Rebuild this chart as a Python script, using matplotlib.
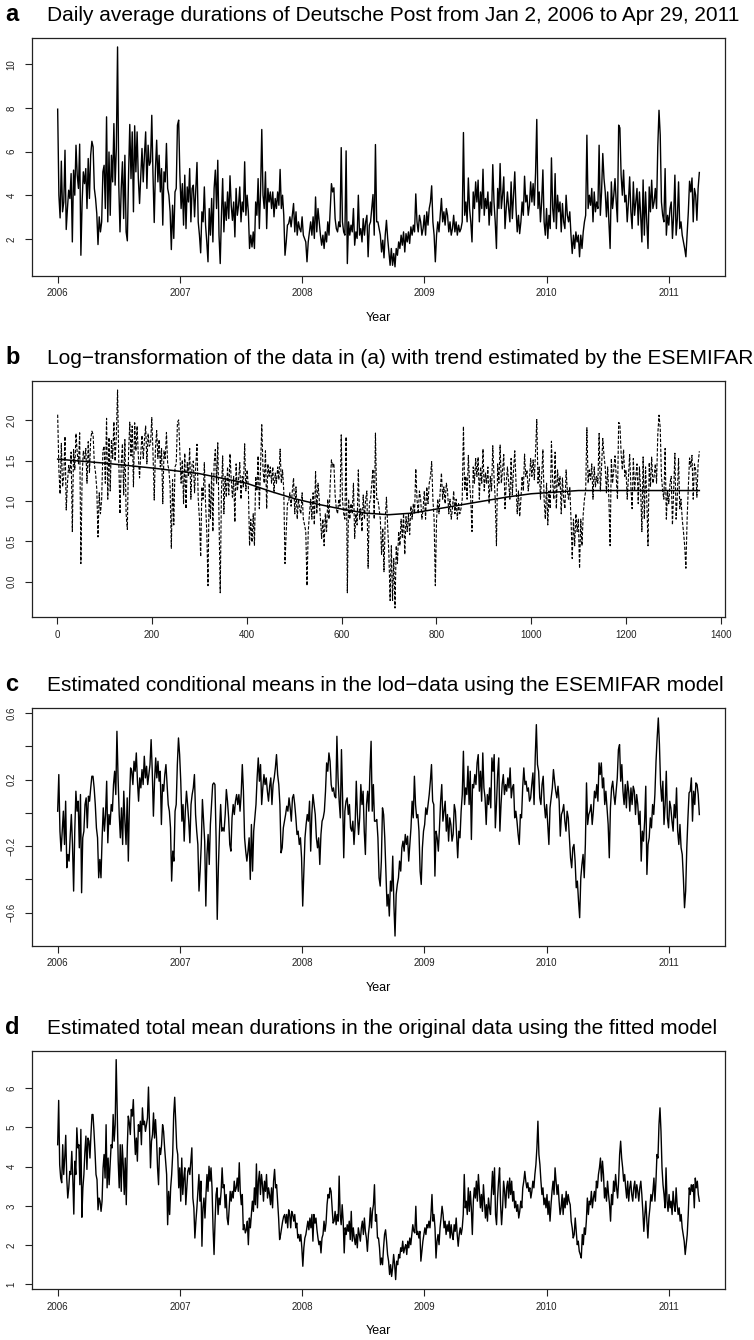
import numpy as np
import matplotlib.pyplot as plt

plt.rcParams['font.family'] = ['Liberation Sans', 'DejaVu Sans']

# (a) daily average durations, Jan 2006 .. Apr 2011
dur_a = [
    7.94, 4.00, 2.96, 5.56, 3.24, 3.69, 6.06, 2.43, 3.39, 4.23,
    3.85, 4.99, 1.86, 5.15, 4.00, 6.29, 4.92, 4.31, 6.34, 1.25,
    3.69, 5.07, 4.53, 5.22, 3.39, 5.68, 3.85, 5.83, 6.47, 6.21,
    4.31, 3.85, 3.16, 1.74, 3.01, 2.32, 2.78, 5.07, 5.37, 3.39,
    7.59, 2.78, 5.98, 3.08, 5.83, 4.61, 7.28, 4.46, 6.14, 10.79,
    4.46, 2.32, 4.31, 5.53, 2.93, 5.83, 2.32, 1.91, 4.92, 7.24,
    4.76, 6.90, 3.24, 7.18, 5.07, 6.90, 4.76, 3.62, 4.92, 6.14,
    4.61, 5.83, 6.90, 4.31, 6.29, 5.37, 5.53, 7.66, 4.92, 2.75,
    5.22, 6.52, 4.61, 5.83, 4.15, 5.22, 2.63, 5.07, 4.61, 6.37,
    4.31, 4.00, 3.24, 1.51, 3.54, 2.02, 4.15, 4.31, 7.21, 7.44,
    4.92, 3.39, 4.53, 2.63, 4.92, 2.47, 4.38, 3.69, 5.22, 2.78,
    4.31, 4.46, 3.01, 4.23, 5.50, 2.78, 2.17, 1.36, 3.24, 2.78,
    4.38, 2.63, 1.86, 0.95, 3.39, 2.17, 3.85, 1.86, 4.31, 5.15,
    3.39, 5.60, 2.17, 0.87, 3.08, 4.76, 2.32, 3.69, 2.85, 4.15,
    2.93, 4.89, 3.54, 2.85, 3.69, 2.09, 4.31, 3.08, 3.54, 4.38,
    2.78, 3.69, 3.24, 5.53, 3.08, 4.00, 3.24, 1.56, 2.17, 1.63,
    2.32, 1.56, 3.69, 3.08, 4.76, 2.47, 4.15, 7.01, 4.00, 3.39,
    5.07, 2.47, 4.31, 3.69, 4.15, 3.39, 4.15, 3.01, 3.85, 3.39,
    4.15, 3.54, 5.18, 3.39, 4.00, 3.08, 1.25, 1.86, 2.63, 2.70,
    3.01, 2.55, 3.08, 3.62, 2.32, 3.24, 2.17, 2.78, 2.47, 2.32,
    3.01, 2.17, 2.02, 1.86, 0.95, 1.86, 2.32, 2.78, 2.17, 3.01,
    2.02, 3.92, 2.32, 3.39, 2.78, 2.17, 1.71, 2.17, 1.56, 2.32,
    1.86, 2.78, 2.17, 3.39, 4.53, 4.15, 4.34, 2.93, 2.47, 2.32,
    2.78, 2.55, 6.18, 2.78, 2.32, 2.17, 6.03, 0.87, 2.78, 2.17,
    2.63, 2.32, 3.39, 1.71, 2.32, 2.02, 4.00, 2.17, 2.47, 1.86,
    2.93, 2.17, 2.78, 3.08, 1.18, 2.63, 2.78, 3.39, 4.03, 2.17,
    6.32, 2.78, 2.78,
    2.47, 2.17, 1.40, 1.94, 1.13, 2.17, 2.85, 2.02, 1.40, 0.79,
    1.56, 0.79, 1.33, 0.72, 1.56, 1.25, 1.86, 1.56, 2.17, 1.71,
    2.32, 1.40, 2.24, 1.86, 2.32, 1.79, 2.55, 2.17, 2.63, 2.32,
    4.06,
    2.78, 2.32, 3.08, 2.78, 2.17, 2.47, 3.08, 2.17, 3.24, 2.63,
    3.39, 3.69, 4.43, 2.78, 2.17, 0.95, 2.17, 2.78, 2.32, 3.08,
    3.85, 2.78, 3.24, 2.63, 3.39, 3.08, 2.32, 2.78, 2.17, 2.47,
    3.08, 2.32, 2.78, 2.17, 2.63, 2.32, 2.47, 2.78, 6.87,
    3.08, 3.69, 2.78, 4.79, 3.39, 2.78, 1.86, 4.15, 3.39, 4.61,
    3.69, 4.69, 2.78, 4.15, 3.39, 5.19, 3.08, 3.85, 3.39, 4.15,
    2.63, 3.69, 3.08, 5.40, 3.69, 2.78, 1.56, 4.31, 3.39, 5.45,
    3.39, 4.00, 4.84, 2.47, 3.39, 4.15, 3.39, 2.78, 4.61, 2.93,
    4.00, 5.07, 3.39, 2.32, 3.08, 2.24, 2.78, 3.69, 3.08, 4.87,
    3.69, 4.00, 3.08, 3.54, 4.61, 3.69, 4.53, 3.54, 5.02, 7.47,
    3.39, 4.15, 2.78, 3.69, 5.16, 2.78, 2.17, 3.39, 2.02, 3.08,
    2.47, 5.71, 3.39, 2.78, 4.99, 2.47, 4.00, 3.24, 3.69, 2.32,
    3.62, 2.78, 2.47, 4.00, 3.08, 2.78, 3.24, 2.17, 1.33, 2.17,
    1.56, 2.32, 1.86, 2.17, 1.18, 2.17, 1.56, 2.32, 2.78, 3.08,
    6.75, 3.39, 4.00, 3.54, 4.31, 2.78, 4.15, 3.24, 3.69, 3.39,
    6.29, 3.08, 4.15, 5.91, 4.76, 4.15, 3.01, 4.15,
    2.78, 1.56, 4.61, 3.39, 4.00, 4.76, 3.69, 2.78, 7.21, 7.08,
    4.92, 4.00, 5.15, 3.69, 4.00, 2.78, 3.69, 4.84, 3.24, 2.47,
    4.61, 3.08, 3.69, 4.31, 2.63, 4.15, 3.08, 1.86, 4.70, 2.17,
    4.15, 2.78, 1.56, 4.38, 3.24, 4.69, 3.39, 3.69, 4.31, 3.39,
    6.21, 7.89, 6.75, 3.69, 3.08, 2.78, 5.22, 2.17, 3.08, 2.63,
    3.39, 3.69, 2.02, 3.08, 4.92, 2.17, 2.93, 4.61, 2.47, 2.78,
    2.17, 1.86, 1.56, 1.18, 2.17, 3.24, 4.64, 4.15, 4.79, 2.78,
    4.31, 4.00, 2.85, 4.31, 5.04,
]

# (b) ESEMIFAR trend of the log data (observation index, value)
trend_t = [1, 100, 200, 300, 400, 450, 500, 550, 600, 650, 700, 750,
           800, 850, 900, 950, 1000, 1050, 1100, 1200, 1355]
trend_b = [1.52, 1.47, 1.41, 1.34, 1.22, 1.12, 1.03, 0.96, 0.90, 0.85, 0.83, 0.85,
           0.90, 0.95, 1.00, 1.05, 1.09, 1.11, 1.13, 1.13, 1.13]
n_obs = 1355

# (c) estimated conditional means of the lod-data
cond_c = [
    0.01, 0.23, -0.11, -0.23, -0.11, 0.01, -0.19, 0.07, -0.33, -0.25,
    -0.29, -0.14, -0.01, -0.19, -0.47, -0.11, 0.13, 0.01, 0.07, -0.21,
    0.11, -0.48, -0.15, -0.11, 0.05, 0.09, -0.09, 0.10, 0.07, 0.15,
    0.22, 0.22, 0.15, 0.05, -0.09, -0.15, -0.39, -0.28, -0.39, -0.15,
    0.03, -0.11, -0.01, 0.19, -0.18, -0.01, -0.07, 0.05, 0.01, 0.17,
    0.25, 0.11, 0.49, 0.21, -0.01, -0.15, 0.03, -0.19, 0.13, -0.05,
    -0.19, 0.09, -0.29, 0.07, 0.27, 0.25, 0.17, 0.31, 0.25, 0.36,
    0.19, 0.07, 0.21, 0.15, 0.26, 0.17, 0.34, 0.21, 0.28, 0.17,
    0.23, 0.29, 0.44, 0.25, -0.02, 0.19, 0.33, 0.21, 0.31, 0.19,
    0.25, -0.07, 0.17, 0.13, 0.23, 0.29, 0.17, 0.05, 0.01, -0.09,
    -0.41, -0.23, -0.29, 0.01, 0.05, 0.29, 0.45, 0.35, 0.19, -0.05,
    0.05, -0.17, 0.01, 0.13, 0.05, -0.05, -0.18, 0.05, 0.11, 0.15,
    0.23, -0.01, -0.11, -0.19, -0.47, -0.35, -0.19, 0.08, -0.05, -0.17,
    -0.56, -0.25, -0.13, -0.31, -0.07, 0.05, 0.17, 0.18, 0.17, -0.15,
    -0.64, -0.33, -0.11, 0.05, -0.11, -0.09, -0.11, -0.01, 0.14, 0.07,
    -0.03, -0.19, -0.23, -0.03, 0.05, -0.01, 0.07, 0.11, 0.05, 0.11,
    0.01, 0.11, 0.29, 0.13, -0.15, -0.23, -0.29, -0.23, -0.15, -0.40,
    -0.07, -0.35, -0.11, -0.03, 0.05, 0.21, 0.33, 0.19, 0.29, 0.05,
    0.15, 0.23, 0.17, 0.21, 0.13, 0.07, 0.16, 0.21, 0.05, 0.17,
    0.21, 0.27, 0.35, 0.23, 0.17, 0.05, -0.24, -0.21, -0.09, -0.05,
    -0.01, 0.04, 0.01, 0.09, 0.03, -0.05, 0.09, 0.11, 0.05, -0.03,
    -0.13, -0.11, -0.19, -0.15, -0.27, -0.56, -0.35, -0.15, -0.07, -0.01,
    -0.05, 0.07, -0.23, -0.01, 0.11, 0.05, -0.01, -0.15, -0.21, -0.15,
    -0.31, -0.13, -0.05, -0.03, 0.01, 0.13, 0.30, 0.25, 0.36, 0.31,
    0.17, 0.13, 0.15, 0.10, 0.09, 0.46, 0.21, 0.07, -0.03, 0.38,
    0.09, -0.27, 0.01, 0.07, 0.09, -0.01, 0.05, -0.09, -0.11, -0.05,
    -0.19, -0.07, 0.19, -0.01, -0.13, -0.03, 0.17, 0.05, 0.13, -0.11,
    -0.25, 0.05, 0.13, 0.01, 0.25, 0.43, 0.01, 0.17, -0.05,
    -0.05, -0.04, -0.15, -0.39, -0.44, -0.29, 0.03, -0.01, -0.15, -0.35,
    -0.56, -0.49, -0.62, -0.41, -0.47, -0.26, -0.55, -0.74, -0.49, -0.43,
    -0.39, -0.29, -0.35, -0.21, -0.17, -0.23, -0.13, -0.19, -0.14, -0.29,
    -0.19, -0.09, 0.07, -0.03, 0.22, 0.05, -0.03, -0.01, -0.11, -0.35,
    -0.43, -0.21, -0.11, -0.07, 0.03, -0.01, 0.05, 0.11, 0.19, 0.29,
    0.07, 0.05, -0.38, -0.11, -0.15, -0.23, -0.09, 0.07, 0.17, -0.05,
    0.01, 0.07, -0.11, -0.01, -0.17, -0.03, -0.07, -0.17, -0.13, 0.05,
    0.01, -0.13, -0.27, -0.11, -0.15, 0.01, 0.11, 0.37, 0.05, 0.15,
    0.11, 0.28, 0.05, 0.25, -0.16, 0.17, 0.15, 0.23, 0.17, 0.30,
    0.35, 0.13, 0.25, 0.07, 0.36, 0.15, 0.09, -0.07, 0.11, 0.05,
    0.15, 0.03, 0.33, 0.25, 0.35, -0.09, 0.05, 0.23, 0.33, -0.11,
    0.05, 0.17, 0.23, 0.11, 0.17, 0.13, 0.21, 0.15, 0.27, 0.09,
    0.15, 0.17, -0.03, 0.01, -0.05, -0.13, -0.19, -0.01, -0.03, 0.15,
    0.27, 0.17, 0.19, 0.13, 0.15, 0.07, 0.09, 0.17, 0.24, 0.05,
    0.33, 0.53, 0.29, 0.25, 0.09, 0.05, 0.17, 0.22, 0.05, -0.03,
    0.05, -0.07, -0.19, 0.03, 0.09, 0.15, 0.26, 0.19, 0.13, 0.09,
    0.16, 0.07, -0.14, -0.01, 0.01, 0.05, -0.05, -0.11, 0.01, -0.03,
    -0.15, -0.27, -0.33, -0.21, -0.19, -0.29, -0.45, -0.41, -0.53, -0.63,
    -0.39, -0.31, -0.25, -0.39, -0.19, 0.18, -0.07, -0.01, 0.01, 0.05,
    -0.07, 0.01, 0.13, 0.09, 0.17, 0.07, 0.30, 0.23, 0.30, 0.15,
    0.21, 0.05, 0.13, 0.03, -0.07, -0.27, 0.03, 0.15, 0.19, 0.11,
    0.05, 0.13, 0.21, 0.38, 0.41, 0.19, 0.29, 0.13, 0.05, 0.17,
    0.03, 0.19, 0.13, 0.01, 0.15, 0.05, 0.16, 0.13, -0.01, 0.11,
    0.05, -0.07, 0.01, -0.29, -0.11, -0.17, -0.05, 0.16, -0.37, -0.19,
    -0.15, -0.03, -0.09, 0.05, -0.01, 0.11, 0.31, 0.45, 0.57, 0.41,
    0.17, 0.07, 0.19, -0.07, 0.05, 0.25, -0.03, -0.09, 0.07, 0.03,
    -0.05, -0.11, 0.05, -0.03, 0.15, -0.11, -0.19, -0.07, -0.21, -0.25,
    -0.39, -0.57, -0.47, -0.21, -0.03, 0.12, 0.13, 0.21, -0.05, 0.13,
    0.05, 0.18, 0.17, 0.11, -0.01,
]

# (d) estimated total mean durations in the original scale
mean_d = [
    4.56, 5.69, 4.05, 3.71, 3.59, 4.56, 3.80, 4.22, 4.80, 3.71,
    3.20, 3.46, 3.88, 3.80, 4.39, 3.71, 2.79, 4.14, 3.80, 4.99,
    4.48, 4.56, 3.54, 4.95, 2.71, 3.46, 3.80, 4.39, 4.78, 3.93,
    4.73, 4.65, 4.22, 4.82, 5.33, 5.33, 4.90, 4.39, 3.80, 3.67,
    2.90, 3.20, 3.12, 2.86, 3.12, 3.97, 4.31, 3.71, 5.07, 3.46,
    4.22, 3.54, 4.05, 4.56, 4.48, 5.33, 4.65, 5.07, 6.73, 5.41,
    4.14, 3.46, 4.56, 3.37, 4.56, 4.05, 3.29, 4.22, 3.03, 4.48,
    5.29, 5.12, 4.82, 5.46, 5.29, 5.71, 4.90, 4.31, 4.73, 4.14,
    5.07, 4.90, 5.16, 4.56, 5.50, 5.07, 5.16, 4.90, 5.07, 5.24,
    6.03, 5.07, 3.97, 4.65, 4.82, 5.37, 4.73, 5.20, 4.73, 3.97,
    3.54, 4.48, 4.31, 4.56, 5.07, 4.90, 4.48, 4.14, 3.80, 2.52,
    3.37, 2.78, 3.46, 3.80, 4.31, 5.33, 5.77, 5.16, 4.48, 4.31,
    3.46, 3.97, 3.12, 4.22, 3.29, 3.71, 3.97, 3.03, 3.46, 3.88,
    3.97, 3.80, 4.14, 4.48, 3.20, 2.95, 2.18, 2.61, 2.95, 3.37,
    3.80, 3.12, 3.63, 1.97, 2.95, 3.20, 2.69, 3.29, 3.80, 3.37,
    4.01, 3.63, 3.97, 3.46, 2.44, 1.76, 2.61, 3.29, 3.46, 2.78,
    3.20, 3.03, 3.37, 3.97, 3.46, 3.54, 2.95, 3.29, 2.69, 2.52,
    2.95, 3.37, 3.12, 3.37, 3.20, 3.63, 3.37, 3.46, 3.71, 3.37,
    4.10, 3.37, 3.03, 3.29, 2.39, 2.52, 2.31, 2.39, 2.61, 2.01,
    2.69, 2.44, 2.78, 3.12, 2.86, 3.46, 3.03, 4.07, 2.95, 3.63,
    3.88, 3.29, 3.80, 3.54, 3.12, 3.63, 3.37, 3.80, 3.20, 3.46,
    3.29, 3.03, 3.46, 2.95, 3.63, 3.93, 3.46, 3.54, 3.12, 2.69,
    2.14, 2.27, 2.44, 2.61, 2.73, 2.78, 2.56, 2.78, 2.44, 2.90,
    2.78, 2.44, 2.86, 2.78, 2.61, 2.78, 2.44, 2.56, 2.18, 2.27,
    2.10, 2.27, 1.93, 1.46, 1.93, 2.18, 2.27, 2.44, 2.61, 2.39,
    2.69, 2.44, 2.78, 2.10, 2.78, 2.56, 2.69, 2.39, 2.18, 2.01,
    2.10, 1.80, 2.18, 2.27, 2.61, 2.35, 2.56, 3.03, 3.29, 3.20,
    3.46, 3.37, 2.95, 2.56, 2.61, 2.86, 2.52, 2.78, 2.61, 3.76,
    2.78, 2.52, 3.03, 2.61, 1.80, 2.44, 2.27, 2.52, 2.35, 2.61,
    2.14, 2.86, 2.10, 2.44, 2.18, 2.01, 2.27, 1.93, 2.44, 2.27,
    2.10, 2.44, 2.61, 2.27, 2.69, 2.35, 2.18, 1.84, 2.27, 2.52,
    2.95, 2.44, 2.86, 3.03, 3.54, 2.61, 2.78, 2.18,
    2.18, 1.93, 1.50, 1.67, 1.50, 1.93, 2.27, 2.39, 2.10, 1.76,
    1.59, 1.25, 1.50, 1.20, 1.42, 1.76, 1.50, 1.12, 1.59, 1.50,
    1.76, 1.67, 1.93, 1.84, 2.10, 1.80, 1.93, 2.01, 1.76, 2.10,
    1.93, 2.18, 2.01, 2.27, 2.52, 2.35, 2.31, 2.99, 2.27, 2.35,
    2.18, 2.35, 1.59, 1.84, 2.10, 2.27, 2.44, 2.27, 2.52, 2.44,
    2.61, 2.44, 2.78, 3.29, 2.61, 2.78, 2.44, 1.67, 2.10, 2.27,
    2.01, 2.44, 2.69, 2.99, 2.78, 2.44, 2.61, 2.27, 2.52, 2.35,
    2.61, 2.18, 2.52, 2.27, 2.14, 2.52, 2.35, 2.69, 2.27, 1.97,
    2.27, 2.44, 2.27, 2.44, 2.78, 3.80, 2.95, 3.12, 2.78, 3.46,
    2.86, 3.37, 2.95, 2.27, 3.12, 3.46, 3.20, 3.63, 3.12, 3.80,
    3.37, 2.95, 3.29, 2.86, 3.54, 3.12, 2.69, 3.03, 2.61, 3.20,
    2.95, 2.78, 3.37, 3.88, 3.29, 3.97, 2.78, 2.52, 3.20, 3.63,
    3.97, 3.03, 2.52, 2.95, 3.63, 3.37, 2.95, 3.46, 3.63, 3.20,
    3.71, 3.29, 3.63, 3.12, 3.37, 2.95, 3.12, 2.86, 3.03, 2.69,
    2.86, 3.12, 2.95, 3.46, 3.63, 3.88, 3.63, 3.46, 3.59, 3.37,
    3.46, 3.20, 3.37, 3.63, 3.46, 3.80, 4.05, 4.48, 5.16, 4.31,
    4.05, 3.63, 3.29, 3.46, 3.03, 3.20, 2.95, 3.29, 2.78, 3.12,
    2.61, 3.03, 3.37, 3.63, 3.29, 3.97, 3.63, 3.29, 3.54, 3.12,
    2.78, 2.95, 3.29, 2.78, 3.20, 2.95, 3.37, 3.03, 3.29, 3.12,
    3.03, 2.61, 2.44, 2.18, 2.27, 2.69, 2.35, 2.01, 2.10, 1.84,
    1.76, 1.67, 2.27, 2.01, 2.44, 2.27, 2.61, 3.20, 2.78, 3.12,
    3.03, 3.37, 2.95, 3.20, 3.37, 3.12, 3.63, 3.46, 3.80, 3.97,
    4.22, 3.63, 4.14, 3.80, 3.20, 3.46, 3.12, 3.63, 3.29, 3.03,
    2.61, 3.29, 3.03, 3.63, 3.37, 3.80, 3.46, 3.20, 3.63, 4.31,
    4.65, 4.22, 3.97, 3.63, 3.80, 3.46, 3.20, 3.63, 3.12, 3.46,
    3.63, 3.29, 3.12, 3.46, 3.63, 3.20, 3.54, 3.37, 3.12, 3.46,
    3.63, 3.29, 2.86, 2.35, 2.78, 3.12, 2.61, 2.18, 2.69, 2.95,
    3.29, 3.12, 3.37, 3.71, 3.12, 3.63, 4.31, 4.22, 5.07, 5.50,
    4.90, 3.97, 3.54, 3.29, 2.95, 3.97, 3.12, 2.86, 3.29, 2.95,
    3.12, 2.78, 3.37, 3.03, 2.86, 3.46, 3.03, 2.78, 2.95, 2.61,
    2.78, 2.44, 2.27, 2.10, 1.76, 2.01, 2.27, 2.78, 3.46, 3.29,
    3.54, 3.37, 3.54, 2.95, 3.71, 3.46, 3.63, 3.29, 3.12,
]

year_start, year_end = 2006.0, 2011.25
year_ticks = [2006, 2007, 2008, 2009, 2010, 2011]

titles = [
    ('a', 'Daily average durations of Deutsche Post from Jan 2, 2006 to Apr 29, 2011'),
    ('b', 'Log\u2212transformation of the data in (a) with trend estimated by the ESEMIFAR'),
    ('c', 'Estimated conditional means in the lod\u2212data using the ESEMIFAR model'),
    ('d', 'Estimated total mean durations in the original data using the fitted model'),
]

# --- figure ---
W, H = 754, 1340
fig = plt.figure(figsize=(W / 100, H / 100), dpi=100)


def box(top, bottom, left=32, right=725):
    return [left / W, 1 - bottom / H, (right - left) / W, (bottom - top) / H]


tops = [38, 381, 708, 1051]
bottoms = [276, 617, 946, 1289]
axes = [fig.add_axes(box(t, b)) for t, b in zip(tops, bottoms)]


def style(ax):
    for s in ax.spines.values():
        s.set_linewidth(0.9)
        s.set_color('#222222')
    ax.tick_params(direction='out', length=5, width=0.8, labelsize=7,
                   top=False, right=False, colors='#222222')
    ax.tick_params(axis='x', pad=4)
    ax.tick_params(axis='y', pad=6)


def year_axis(ax):
    ax.set_xlim(year_start - 0.21, year_end + 0.21)
    ax.set_xticks(year_ticks)
    ax.set_xticklabels([str(y) for y in year_ticks])


def rot_ylabels(ax, labels):
    ax.set_yticklabels(labels, rotation=90, va='center')


# (a)
ax = axes[0]
ya = np.linspace(year_start, year_end, len(dur_a))
ax.plot(ya, dur_a, color='black', lw=1.0)
year_axis(ax)
ax.set_ylim(0.3, 11.2)
ax.set_yticks([2, 4, 6, 8, 10])
rot_ylabels(ax, ['2', '4', '6', '8', '10'])
style(ax)

# (b)
ax = axes[1]
idx = np.linspace(1, n_obs, len(dur_a))
ax.plot(idx, np.log(dur_a), color='black', lw=0.8, linestyle=(0, (3, 1.5)))
ax.plot(trend_t, trend_b, color='black', lw=1.1)
ax.set_xlim(1 - 0.04 * (n_obs - 1), n_obs + 0.04 * (n_obs - 1))
ax.set_xticks(range(0, 1401, 200))
ax.set_ylim(-0.44, 2.49)
ax.set_yticks([0, 0.5, 1.0, 1.5, 2.0])
rot_ylabels(ax, ['0.0', '0.5', '1.0', '1.5', '2.0'])
style(ax)

# (c)
ax = axes[2]
yc = np.linspace(year_start, year_end, len(cond_c))
ax.plot(yc, cond_c, color='black', lw=1.0)
year_axis(ax)
ax.set_ylim(-0.80, 0.63)
ax.set_yticks([-0.6, -0.4, -0.2, 0.0, 0.2, 0.4, 0.6])
rot_ylabels(ax, ['\u22120.6', '', '\u22120.2', '', '0.2', '', '0.6'])
style(ax)

# (d)
ax = axes[3]
yd = np.linspace(year_start, year_end, len(mean_d))
ax.plot(yd, mean_d, color='black', lw=1.0)
year_axis(ax)
ax.set_ylim(0.88, 6.95)
ax.set_yticks([1, 2, 3, 4, 5, 6])
rot_ylabels(ax, ['1', '2', '3', '4', '5', '6'])
style(ax)

# panel letters and titles
for (letter, text), top in zip(titles, tops):
    base = 1 - (top - 17) / H
    fig.text(5 / W, base, letter, fontsize=17, fontweight='bold', va='baseline')
    fig.text(47 / W, base, text, fontsize=15, va='baseline')

# x-axis labels
for i in (0, 2, 3):
    fig.text(378 / W, 1 - (bottoms[i] + 42) / H, 'Year', fontsize=9,
             ha='center', va='center')

fig.savefig('out.png', dpi=100)
